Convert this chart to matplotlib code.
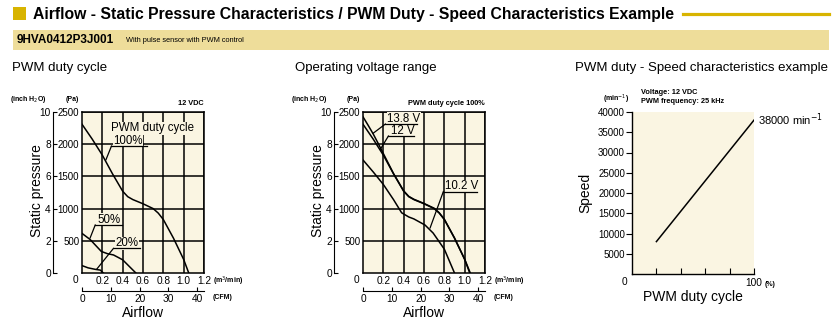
import numpy as np
import matplotlib
matplotlib.use('Agg')
import matplotlib.pyplot as plt
from matplotlib.patches import Rectangle
from matplotlib.lines import Line2D

plt.rcParams['font.family'] = ['Liberation Sans', 'DejaVu Sans']
NUM = ['Liberation Sans', 'DejaVu Sans']

# Dados - curvas PWM (12 VDC)
flow_100 = [0, 0.1, 0.2, 0.3, 0.4, 0.45, 0.5, 0.6, 0.7, 0.75, 0.8, 0.9, 1.0, 1.05]
pa_100 = [2310, 2080, 1830, 1540, 1270, 1185, 1140, 1075, 1000, 930, 830, 540, 210, 0]
flow_50 = [0, 0.08, 0.19, 0.25, 0.31, 0.4, 0.46, 0.53]
pa_50 = [615, 520, 335, 300, 280, 205, 110, 0]
flow_20 = [0, 0.06, 0.13, 0.18, 0.21]
pa_20 = [115, 80, 57, 45, 0]

# Dados - faixa de tensao (PWM 100%)
flow_138 = [0, 0.05, 0.1, 0.15, 0.2, 0.25, 0.3, 0.4, 0.45, 0.5, 0.6, 0.7, 0.75, 0.8, 0.9, 1.0, 1.055]
pa_138 = [2425, 2295, 2160, 2010, 1855, 1700, 1545, 1275, 1190, 1145, 1080, 1005, 935, 835, 545, 215, 0]
flow_12 = flow_100
pa_12 = pa_100
flow_102 = [0, 0.1, 0.2, 0.3, 0.38, 0.45, 0.5, 0.61, 0.69, 0.8, 0.9]
pa_102 = [1755, 1570, 1375, 1140, 935, 870, 840, 745, 620, 370, 0]

# Dados - velocidade x PWM
duty = [20, 100]
speed = [8000, 38000]

W, H = 838, 325
BG = '#FAF5E2'
YEL = '#D8B400'


def px_box(x0, y0, x1, y1):
    return [x0 / W, 1 - y1 / H, (x1 - x0) / W, (y1 - y0) / H]


fig = plt.figure(figsize=(W / 100, H / 100), dpi=100)

# Cabecalho
fig.add_artist(Rectangle((13 / W, 1 - 20 / H), 13 / W, 13 / H, transform=fig.transFigure,
                         color=YEL, lw=0))
fig.text(33 / W, 1 - 14 / H,
         'Airflow - Static Pressure Characteristics / PWM Duty - Speed Characteristics Example',
         fontsize=11.3, fontweight='bold', va='center', ha='left')
fig.add_artist(Line2D([683 / W, 829 / W], [1 - 14 / H, 1 - 14 / H], transform=fig.transFigure,
                      color=YEL, lw=2.3))
fig.add_artist(Rectangle((13 / W, 1 - 50 / H), 816 / W, 20 / H, transform=fig.transFigure,
                         color='#EEDD9A', lw=0))
fig.text(17 / W, 1 - 40 / H, '9HVA0412P3J001', fontsize=8.5, fontweight='bold',
         va='center', ha='left')
fig.text(126 / W, 1 - 40.5 / H, 'With pulse sensor with PWM control', fontsize=5.3,
         va='center', ha='left')

fig.text(12 / W, 1 - 68 / H, 'PWM duty cycle', fontsize=9.5, va='center', ha='left')
fig.text(295 / W, 1 - 68 / H, 'Operating voltage range', fontsize=9.5, va='center', ha='left')
fig.text(575 / W, 1 - 68 / H, 'PWM duty - Speed characteristics example', fontsize=9.5,
         va='center', ha='left')

BOX = dict(facecolor=BG, edgecolor='none', pad=0.3)


def pq_axes(x0):
    ax = fig.add_axes(px_box(x0, 112, x0 + 122, 273))
    ax.set_facecolor(BG)
    ax.set_xlim(0, 1.2)
    ax.set_ylim(0, 2500)
    ax.set_xticks([0.2, 0.4, 0.6, 0.8, 1.0, 1.2])
    ax.set_xticklabels(['0.2', '0.4', '0.6', '0.8', '1.0', '1.2'], family=NUM, fontsize=7.3)
    ax.set_yticks([500, 1000, 1500, 2000, 2500])
    ax.set_yticklabels(['500', '1000', '1500', '2000', '2500'], family=NUM, fontsize=7)
    ax.tick_params(length=0, pad=2)
    ax.grid(True, color='black', lw=1.1)
    for s in ax.spines.values():
        s.set_linewidth(1.1)

    sec_y = ax.secondary_yaxis(-0.238, functions=(lambda p: p / 250, lambda i: i * 250))
    sec_y.set_yticks([0, 2, 4, 6, 8, 10])
    sec_y.set_yticklabels(['0', '2', '4', '6', '8', '10'], family=NUM, fontsize=7.3)
    sec_y.tick_params(direction='in', length=3, width=0.8, pad=1.5)
    sec_y.spines['left'].set_linewidth(0.8)

    sec_x = ax.secondary_xaxis(-0.112, functions=(lambda m: m * 35.3147, lambda c: c / 35.3147))
    sec_x.set_xticks([0, 10, 20, 30, 40])
    sec_x.set_xticklabels(['0', '10', '20', '30', '40'], family=NUM, fontsize=7.3)
    sec_x.tick_params(direction='in', length=3, width=0.8, pad=2)
    sec_x.spines['bottom'].set_linewidth(0.8)

    ax.text(-0.033, -0.043, '0', transform=ax.transAxes, ha='right', va='center',
            family=NUM, fontsize=7.3)
    ax.text(1.07, -0.05, '(m$^3$/min)', transform=ax.transAxes, ha='left', va='center',
            fontsize=5, fontweight='bold')
    ax.text(1.07, -0.155, '(CFM)', transform=ax.transAxes, ha='left', va='center',
            fontsize=5, fontweight='bold')
    ax.text(0.5, -0.25, 'Airflow', transform=ax.transAxes, ha='center', va='center', fontsize=10)
    ax.text(-0.37, 0.515, 'Static pressure', transform=ax.transAxes, ha='center', va='center',
            rotation=90, fontsize=10)
    ax.text(-0.44, 1.075, '(inch H$_2$O)', transform=ax.transAxes, ha='center', va='center',
            fontsize=5, fontweight='bold')
    ax.text(-0.08, 1.075, '(Pa)', transform=ax.transAxes, ha='center', va='center',
            fontsize=5, fontweight='bold')
    return ax


def callout(ax, text, x0, x1, yl, lx, ly, tx=None):
    if tx is None:
        tx = x0 + 0.02
    ax.text(tx, yl + 35, text, ha='left', va='baseline', fontsize=8.3, bbox=BOX, zorder=4)
    ax.plot([x0, x1], [yl, yl], color='black', lw=0.9, zorder=5)
    ax.plot([x0, lx], [yl, ly], color='black', lw=0.9, zorder=5)


# Grafico 1 - PWM duty cycle
ax1 = pq_axes(82)
ax1.plot(flow_100, pa_100, color='black', lw=1.1, zorder=3)
ax1.plot(flow_50, pa_50, color='black', lw=1.1, zorder=3)
ax1.plot(flow_20, pa_20, color='black', lw=1.1, zorder=3)
ax1.text(0.29, 2250, 'PWM duty cycle', ha='left', va='center', fontsize=8.3, bbox=BOX, zorder=4)
callout(ax1, '100%', 0.29, 0.64, 1972, 0.236, 1760)
callout(ax1, '50%', 0.13, 0.39, 745, 0.08, 545)
callout(ax1, '20%', 0.31, 0.57, 383, 0.145, 60)
ax1.text(1.0, 1.05, '12 VDC', transform=ax1.transAxes, ha='right', va='center',
         fontsize=5.3, fontweight='bold')

# Grafico 2 - Faixa de tensao
ax2 = pq_axes(363)
ax2.plot(flow_138, pa_138, color='black', lw=1.1, zorder=3)
ax2.plot(flow_12, pa_12, color='black', lw=1.1, zorder=3)
ax2.plot(flow_102, pa_102, color='black', lw=1.1, zorder=3)
callout(ax2, '13.8 V', 0.22, 0.53, 2313, 0.10, 2170)
callout(ax2, '12 V', 0.25, 0.50, 2127, 0.17, 1920, tx=0.28)
callout(ax2, '10.2 V', 0.79, 1.12, 1263, 0.66, 700)
ax2.text(1.0, 1.05, 'PWM duty cycle 100%', transform=ax2.transAxes, ha='right', va='center',
         fontsize=5.3, fontweight='bold')

# Grafico 3 - Velocidade
ax3 = fig.add_axes(px_box(632, 112, 754, 274))
ax3.set_facecolor(BG)
ax3.plot(duty, speed, color='black', lw=1.1)
ax3.set_xlim(0, 100)
ax3.set_ylim(0, 40000)
ax3.spines['top'].set_visible(False)
ax3.spines['right'].set_visible(False)
ax3.spines['left'].set_linewidth(1.0)
ax3.spines['bottom'].set_linewidth(1.0)
ax3.set_yticks([5000, 10000, 15000, 20000, 25000, 30000, 35000, 40000])
ax3.set_yticklabels(['5000', '10000', '15000', '20000', '25000', '30000', '35000', '40000'],
                    family=NUM, fontsize=7)
ax3.tick_params(axis='y', direction='out', length=4, width=0.8, pad=1)
ax3.set_xticks([20, 40, 60, 80, 100])
ax3.set_xticklabels(['', '', '', '', '100'], family=NUM, fontsize=7.3)
ax3.tick_params(axis='x', direction='in', length=4, width=0.8, pad=3)
ax3.text(-0.04, -0.05, '0', transform=ax3.transAxes, ha='right', va='center',
         family=NUM, fontsize=7.3)
ax3.text(1.085, -0.062, '(%)', transform=ax3.transAxes, ha='left', va='center',
         fontsize=5, fontweight='bold')
ax3.text(0.5, -0.14, 'PWM duty cycle', transform=ax3.transAxes, ha='center', va='center',
         fontsize=10)
ax3.text(-0.385, 0.5, 'Speed', transform=ax3.transAxes, ha='center', va='center',
         rotation=90, fontsize=10)
ax3.text(-0.13, 1.08, '(min$^{-1}$)', transform=ax3.transAxes, ha='center', va='center',
         fontsize=5, fontweight='bold')
ax3.text(0.07, 1.12, 'Voltage: 12 VDC', transform=ax3.transAxes, ha='left', va='center',
         fontsize=5.3, fontweight='bold')
ax3.text(0.07, 1.065, 'PWM frequency: 25 kHz', transform=ax3.transAxes, ha='left', va='center',
         fontsize=5.3, fontweight='bold')
ax3.text(1.03, 0.95, '38000 min$^{-1}$', transform=ax3.transAxes, ha='left', va='center',
         family=NUM, fontsize=8)

fig.savefig('out.png', dpi=100)
